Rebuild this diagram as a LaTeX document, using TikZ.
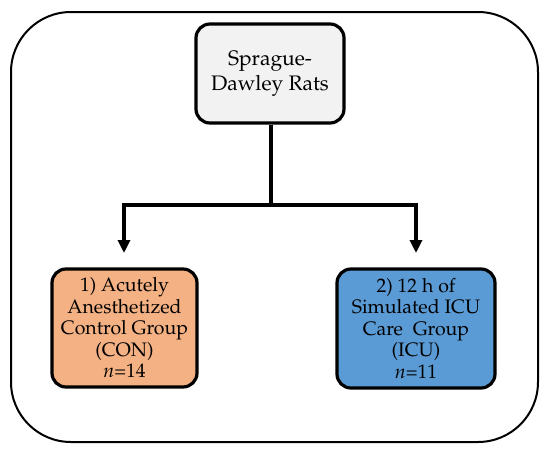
\documentclass[tikz,border=0pt]{standalone}
\usepackage[T1]{fontenc}
\usepackage{mathpazo}
\usetikzlibrary{arrows.meta}
\definecolor{greyfill}{HTML}{F2F2F2}
\definecolor{orangefill}{HTML}{F4B183}
\definecolor{bluefill}{HTML}{5B9BD5}
\tikzset{
  boxstyle/.style={draw=black, line width=3.2pt, rounded corners=14pt, align=center, inner sep=0pt},
  conn/.style={line width=3.2pt},
  arr/.style={line width=3.2pt, -{Triangle[width=12pt,length=13pt]}}
}
\begin{document}
\begin{tikzpicture}[x=1pt,y=-1pt]
\useasboundingbox (0,0) rectangle (550,455);
\draw[line width=2pt, rounded corners=60pt] (11,12) rectangle (538,442);
\node[boxstyle, fill=greyfill, minimum width=148pt, minimum height=99pt,
  font=\fontsize{21}{25}\selectfont] (top) at (270,73.5) {Sprague-\\Dawley Rats};
\node[boxstyle, fill=orangefill, minimum width=145pt, minimum height=118pt,
  font=\fontsize{19.5}{21.5}\selectfont] (con) at (124.5,328) {1) Acutely\\Anesthetized\\Control Group\\(CON)\\\textit{n}=14};
\node[boxstyle, fill=bluefill, minimum width=158pt, minimum height=119pt,
  font=\fontsize{19.5}{21.5}\selectfont] (icu) at (416,328.5) {2) 12 h of\\Simulated ICU\\Care~ Group\\(ICU)\\\textit{n}=11};
\coordinate (j) at (271,205);
\coordinate (jl) at (124,205);
\coordinate (jr) at (416,205);
\draw[conn] (top.south -| j) -- (j);
\draw[conn] ([xshift=-1.6pt]jl) -- ([xshift=1.6pt]jr);
\draw[arr] (jl) -- (jl |- 0,253);
\draw[arr] (jr) -- (jr |- 0,253);
\end{tikzpicture}
\end{document}
